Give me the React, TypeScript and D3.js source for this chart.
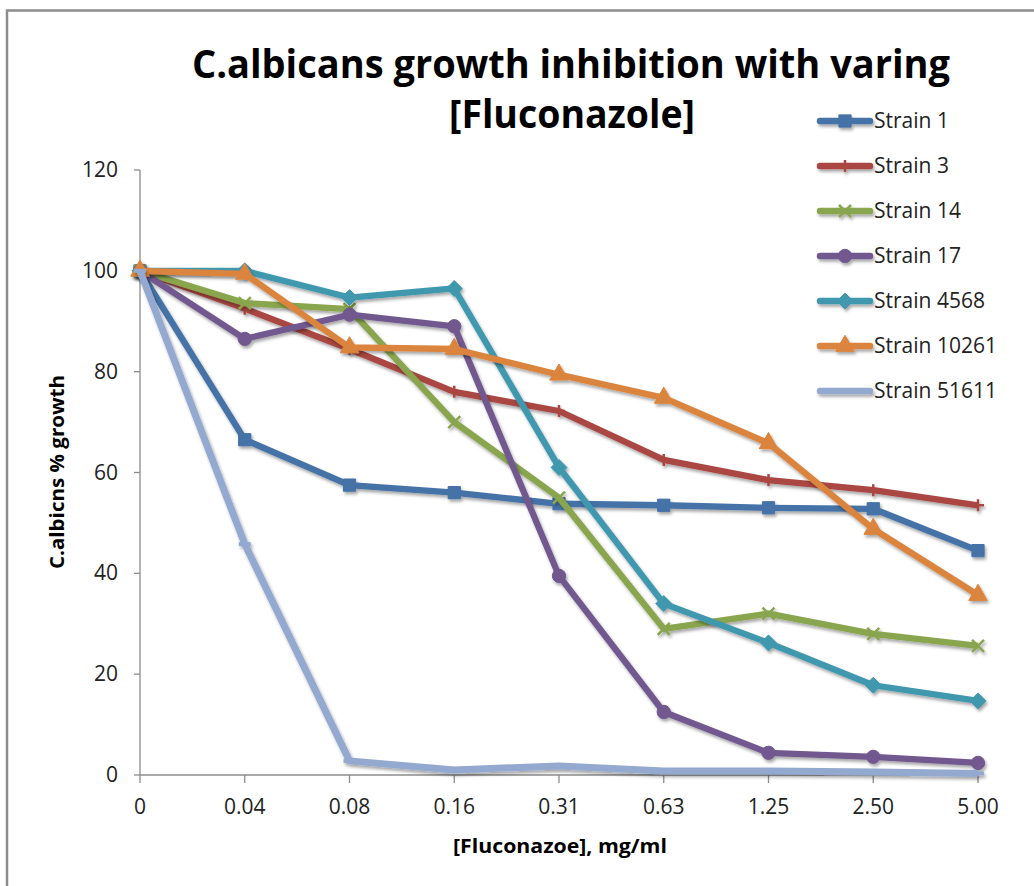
import React from "react";
import * as d3 from "d3";

// concentrations (category axis)
const doses = ["0", "0.04", "0.08", "0.16", "0.31", "0.63", "1.25", "2.50", "5.00"];
const yTicks = [0, 20, 40, 60, 80, 100, 120];

const strainNames = ["Strain 1", "Strain 3", "Strain 14", "Strain 17", "Strain 4568", "Strain 10261", "Strain 51611"];
const strain1 = [100, 66.5, 57.5, 56, 53.8, 53.5, 53, 52.8, 44.5];
const strain3 = [100, 92.5, 84.5, 76, 72.2, 62.5, 58.5, 56.5, 53.5];
const strain14 = [100, 93.6, 92.4, 70, 55, 29, 32, 28, 25.6];
const strain17 = [100, 86.5, 91.3, 89, 39.5, 12.5, 4.4, 3.6, 2.4];
const strain4568 = [100, 100, 94.7, 96.5, 61, 34, 26.2, 17.8, 14.7];
const strain10261 = [100, 99.4, 84.8, 84.5, 79.4, 74.8, 65.8, 48.8, 35.7];
const strain51611 = [100, 45.8, 2.8, 1, 1.8, 0.8, 0.8, 0.6, 0.3];

const colors = ["#4572A7", "#AA4643", "#89A54E", "#71588F", "#4198AF", "#DB843D", "#93A9CF"];
const markers = ["square", "plus", "x", "circle", "diamond", "triangle", "dash"];

const font = "'Open Sans', 'Liberation Sans', sans-serif";

function markerPath(kind: string) {
  switch (kind) {
    case "square":
      return d3.symbol(d3.symbolSquare, 150)()!;
    case "circle":
      return d3.symbol(d3.symbolCircle, 140)()!;
    case "triangle":
      return d3.symbol(d3.symbolTriangle, 150)()!;
    case "diamond":
      return "M0,-8L8,0L0,8L-8,0Z";
    case "plus":
      return "M-6,0L6,0M0,-6L0,6";
    case "x":
      return "M-6,-6L6,6M-6,6L6,-6";
    default:
      return "M-6,0L6,0";
  }
}

const App = () => {
  const width = 1034;
  const height = 886;
  const x = d3.scalePoint<string>().domain(doses).range([140, 978]);
  const y = d3.scaleLinear().domain([0, 120]).range([775, 170]);

  const series = [strain1, strain3, strain14, strain17, strain4568, strain10261, strain51611];
  const line = d3
    .line<number>()
    .x((_, i) => x(doses[i])!)
    .y((d) => y(d));

  const strokeMarker = (k: string) => k === "plus" || k === "x" || k === "dash";

  const drawMarker = (k: string, c: string, cx: number, cy: number, key: string) => (
    <path
      key={key}
      d={markerPath(k)}
      transform={`translate(${cx},${cy})`}
      fill={strokeMarker(k) ? "none" : c}
      stroke={c}
      strokeWidth={strokeMarker(k) ? (k === "dash" ? 4 : 2.5) : 1}
    />
  );

  return (
    <svg width={width} height={height} style={{ display: "block", position: "absolute", left: 0, top: 0 }}>
      <defs>
        <filter id="shadow" filterUnits="userSpaceOnUse" x={0} y={0} width={width} height={height}>
          <feDropShadow dx="1.5" dy="2.5" stdDeviation="1.6" floodColor="#000" floodOpacity="0.35" />
        </filter>
      </defs>
      <rect x={0} y={0} width={width} height={height} fill="#fff" />
      {/* chart border */}
      <path d={`M7,${height}V10.5H${width}`} fill="none" stroke="#8c8c8c" strokeWidth={2.5} />

      {/* title */}
      <text x={571} y={78} textAnchor="middle" fontFamily={font} fontWeight="bold" fontSize={40}
        textLength={758} lengthAdjust="spacingAndGlyphs">
        C.albicans growth inhibition with varing
      </text>
      <text x={572} y={128} textAnchor="middle" fontFamily={font} fontWeight="bold" fontSize={40}
        textLength={246} lengthAdjust="spacingAndGlyphs">
        [Fluconazole]
      </text>

      {/* axes */}
      <g stroke="#8c8c8c" strokeWidth={1.3} fill="none">
        <line x1={140} x2={140} y1={y(120)} y2={y(0)} />
        <line x1={140} x2={978} y1={y(0)} y2={y(0)} />
        {yTicks.map((t) => (
          <line key={t} x1={134} x2={140} y1={y(t)} y2={y(t)} />
        ))}
        {doses.map((d) => (
          <line key={d} x1={x(d)} x2={x(d)} y1={y(0)} y2={y(0) + 8} />
        ))}
      </g>
      <g fontFamily={font} fontSize={21} fill="#222">
        {yTicks.map((t) => (
          <text key={t} x={118} y={y(t) + 7} textAnchor="end">
            {t}
          </text>
        ))}
        {doses.map((d) => (
          <text key={d} x={x(d)} y={814} textAnchor="middle">
            {d}
          </text>
        ))}
      </g>
      <text x={560} y={853} textAnchor="middle" fontFamily={font} fontWeight="bold" fontSize={19}
        textLength={214} lengthAdjust="spacingAndGlyphs">
        [Fluconazoe], mg/ml
      </text>
      <text transform="translate(64,472) rotate(-90)" textAnchor="middle" fontFamily={font} fontWeight="bold" fontSize={19}
        textLength={194} lengthAdjust="spacingAndGlyphs">
        C.albicns % growth
      </text>

      {/* series */}
      {series.map((vals, si) => (
        <g key={si} filter="url(#shadow)">
          <path d={line(vals)!} fill="none" stroke={colors[si]} strokeWidth={si === 6 ? 7 : 6.3} strokeLinejoin="round" />
          {vals.map((v, i) => drawMarker(markers[si], colors[si], x(doses[i])!, y(v), `${si}-${i}`))}
        </g>
      ))}

      {/* legend */}
      {strainNames.map((name, i) => {
        const ly = 121 + i * 45;
        return (
          <g key={name}>
            <g filter="url(#shadow)">
              <line x1={820} x2={870} y1={ly} y2={ly} stroke={colors[i]} strokeWidth={6.5} strokeLinecap="round" />
              {drawMarker(markers[i], colors[i], 845, ly, "lg" + i)}
            </g>
            <text x={874} y={ly + 7} fontFamily={font} fontSize={21} fill="#222">
              {name}
            </text>
          </g>
        );
      })}
    </svg>
  );
};

export default App;
